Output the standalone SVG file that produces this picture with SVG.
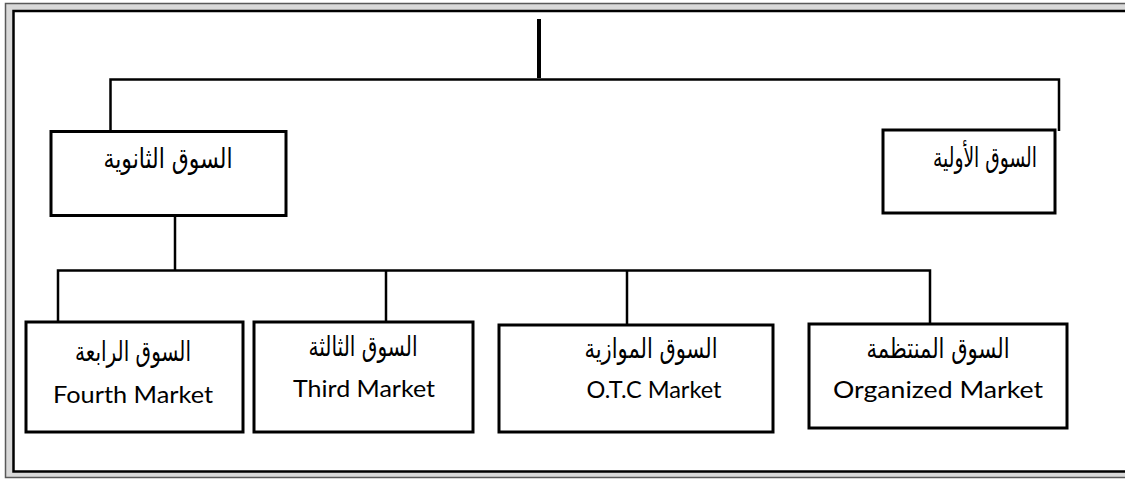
<svg xmlns="http://www.w3.org/2000/svg" width="1125" height="479" viewBox="0 0 1125 479">
<style>
.box{fill:#fff;stroke:#000;stroke-width:3}
.ln{stroke:#000;stroke-width:2.5;fill:none}
.ar{font-family:"DejaVu Sans","Liberation Sans",sans-serif;font-size:28px;fill:#000;text-anchor:middle}
.en{font-family:Lato,"Open Sans","Liberation Sans",sans-serif;font-size:24px;fill:#000;text-anchor:middle}
</style>
<g id="frame">
<rect x="5.5" y="3.5" width="1140" height="474" fill="#d9d9d9" stroke="#595959" stroke-width="1.5"/>
<rect x="13.5" y="11" width="1140" height="460.5" fill="#fff" stroke="#000" stroke-width="2.5"/>
</g>
<g id="connectors">
<line class="ln" x1="539" y1="19" x2="539" y2="78" style="stroke-width:4"/>
<polyline class="ln" points="110.5,131 110.5,79.5 1059,79.5 1059,131"/>
<line class="ln" x1="175" y1="215" x2="175" y2="270.5"/>
<polyline class="ln" points="58,322 58,270.5 930,270.5 930,324"/>
<line class="ln" x1="386" y1="270.5" x2="386" y2="322"/>
<line class="ln" x1="627" y1="270.5" x2="627" y2="325"/>
</g>
<g id="secondary">
<rect class="box" x="51" y="131.5" width="235" height="84"/>
<text class="ar" x="168" y="168" textLength="129" lengthAdjust="spacingAndGlyphs">السوق الثانوية</text>
</g>
<g id="primary">
<rect class="box" x="883" y="130" width="172" height="83"/>
<text class="ar" x="985" y="167" textLength="104" lengthAdjust="spacingAndGlyphs">السوق الأولية</text>
</g>
<g id="fourth">
<rect class="box" x="26" y="322" width="217" height="110"/>
<text class="ar" x="133" y="361" textLength="116" lengthAdjust="spacingAndGlyphs">السوق الرابعة</text>
<text class="en" x="133" y="403" textLength="160" lengthAdjust="spacingAndGlyphs">Fourth Market</text>
</g>
<g id="third">
<rect class="box" x="254" y="322" width="219" height="110"/>
<text class="ar" x="363" y="356" textLength="109" lengthAdjust="spacingAndGlyphs">السوق الثالثة</text>
<text class="en" x="364" y="397" textLength="142" lengthAdjust="spacingAndGlyphs">Third Market</text>
</g>
<g id="otc">
<rect class="box" x="499" y="325" width="274" height="107"/>
<text class="ar" x="651" y="358" textLength="133" lengthAdjust="spacingAndGlyphs">السوق الموازية</text>
<text class="en" x="654" y="398" textLength="135" lengthAdjust="spacingAndGlyphs">O.T.C Market</text>
</g>
<g id="organized">
<rect class="box" x="809" y="324" width="258" height="104"/>
<text class="ar" x="938" y="358" textLength="143" lengthAdjust="spacingAndGlyphs">السوق المنتظمة</text>
<text class="en" x="938" y="398" textLength="210" lengthAdjust="spacingAndGlyphs">Organized Market</text>
</g>
</svg>
